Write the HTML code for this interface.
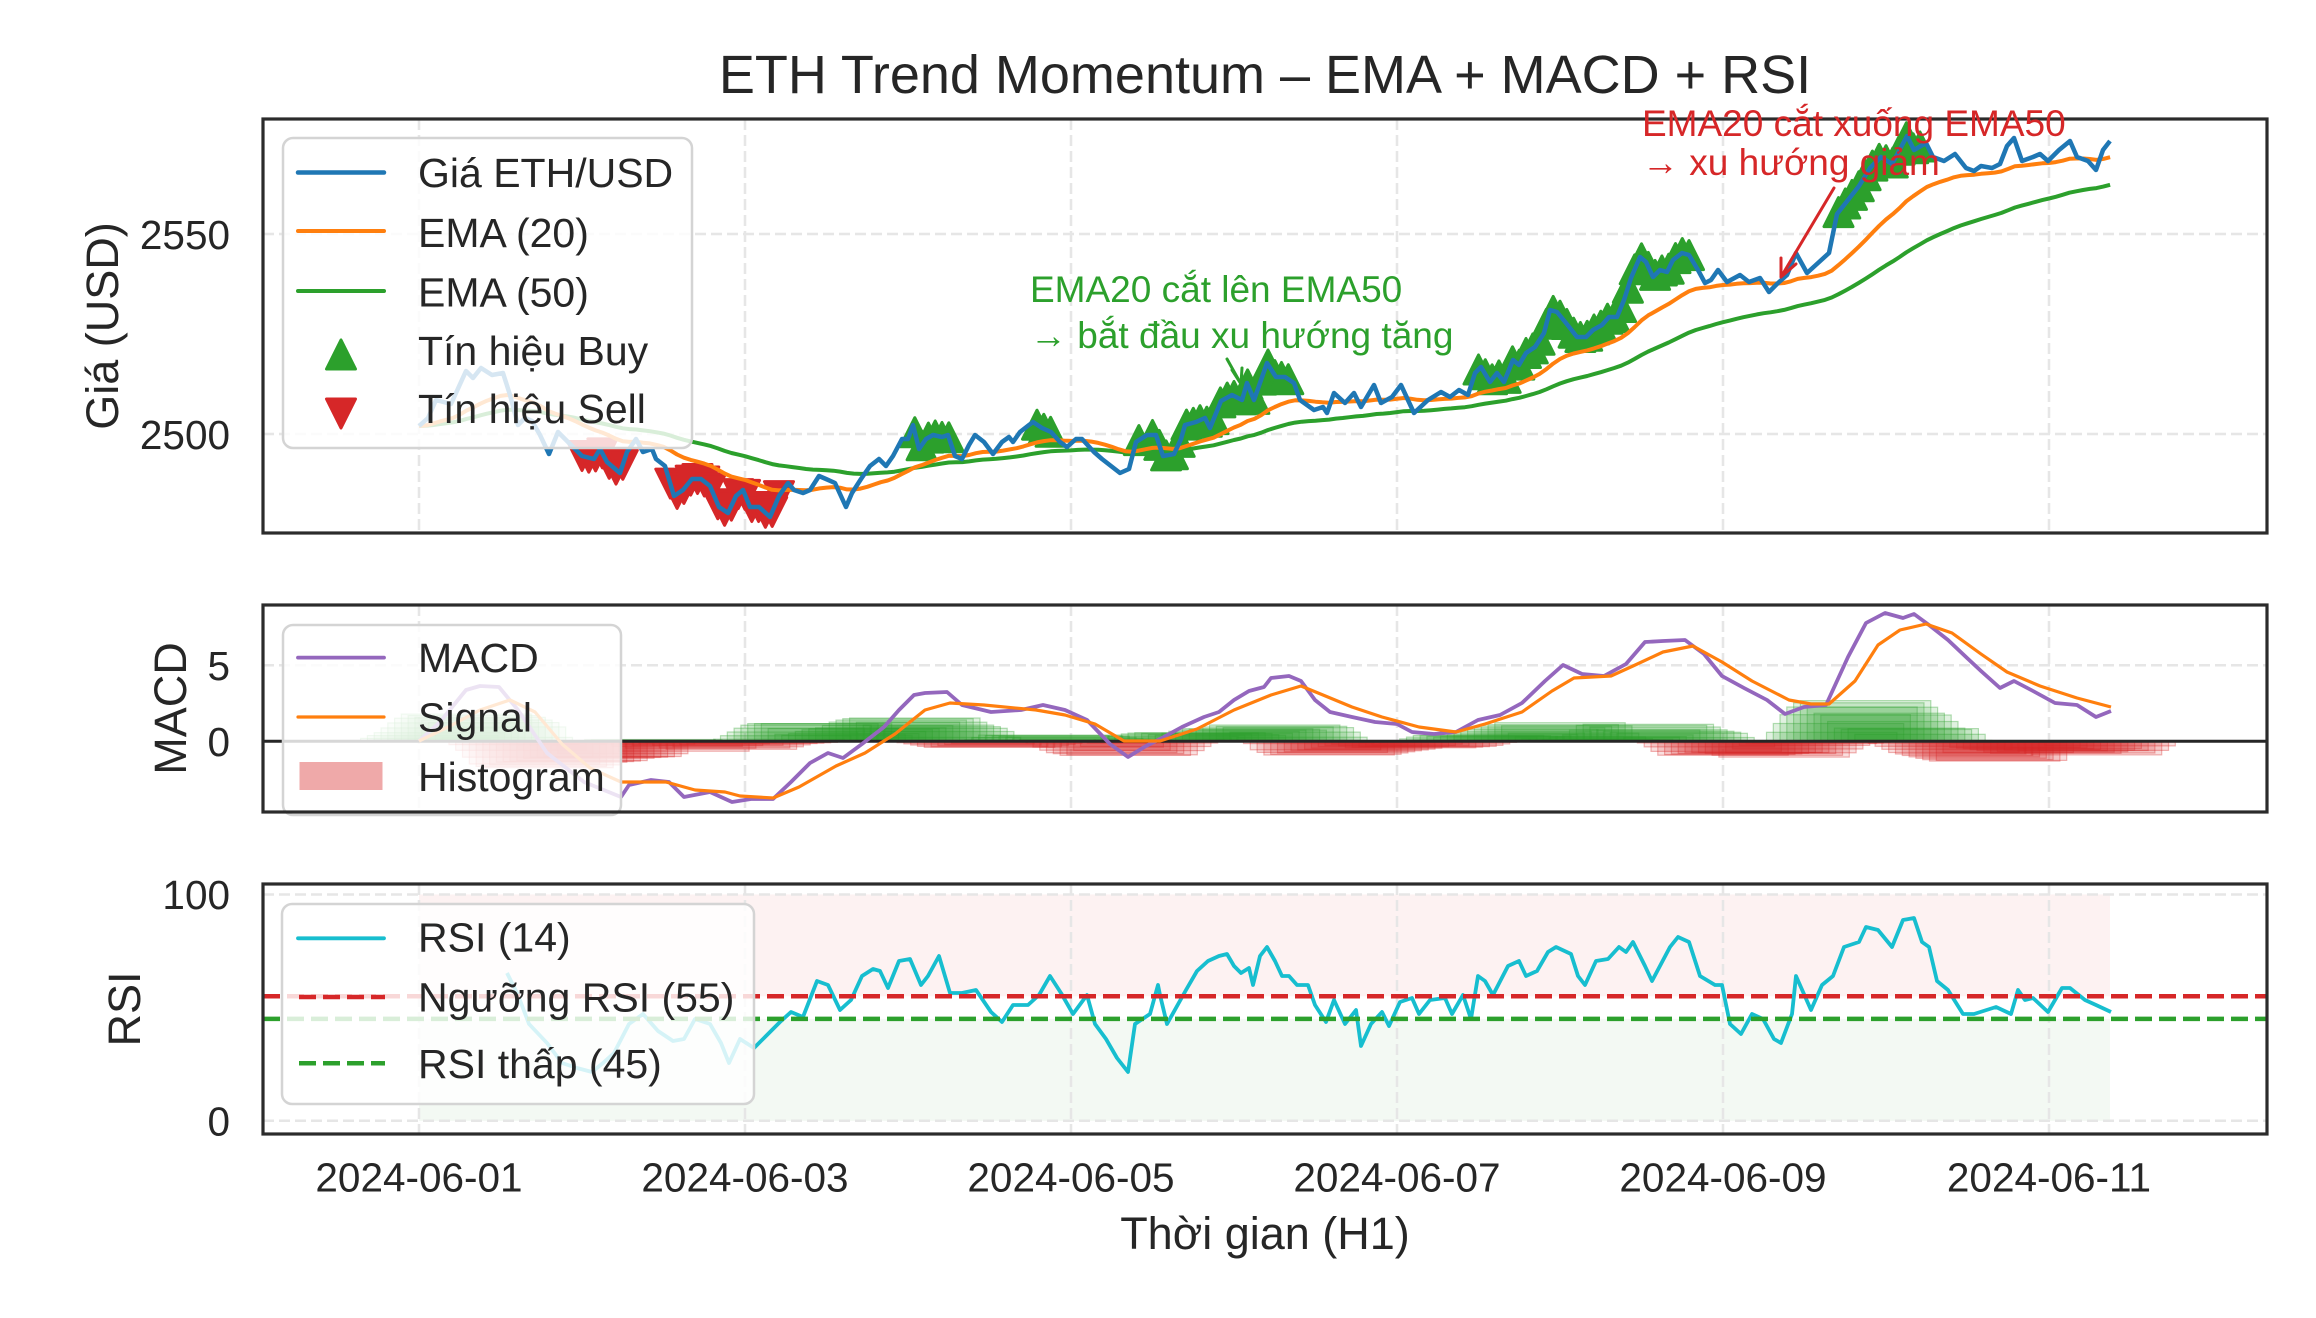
<!DOCTYPE html>
<html><head><meta charset="utf-8">
<style>
html,body{margin:0;padding:0;background:#fff;}
svg{display:block;}
text{font-family:"Liberation Sans","DejaVu Sans",sans-serif;fill:#262626;}
</style></head>
<body>
<svg id="c" width="2316" height="1318" viewBox="0 0 2316 1318" xmlns="http://www.w3.org/2000/svg">
<defs>
<clipPath id="cp1"><rect x="263" y="119" width="2004" height="414"/></clipPath>
<clipPath id="cp2"><rect x="263" y="605" width="2004" height="207"/></clipPath>
<clipPath id="cp3"><rect x="263" y="884" width="2004" height="250"/></clipPath>
</defs>
<rect width="2316" height="1318" fill="#fff"/>

<g clip-path="url(#cp3)">
<rect x="419" y="894.5" width="1691" height="101.8" fill="#d62728" fill-opacity="0.06"/>
<rect x="419" y="1018.9" width="1691" height="101.9" fill="#2ca02c" fill-opacity="0.06"/>
</g>

<g stroke="#e6e6e6" stroke-width="2.5" stroke-dasharray="11 5" fill="none">
<path d="M419 119V533M745 119V533M1071 119V533M1397 119V533M1723 119V533M2049 119V533"/>
<path d="M419 605V812M745 605V812M1071 605V812M1397 605V812M1723 605V812M2049 605V812"/>
<path d="M419 884V1134M745 884V1134M1071 884V1134M1397 884V1134M1723 884V1134M2049 884V1134"/>
<path d="M263 234H2267M263 434H2267"/>
<path d="M263 665.3H2267"/>
<path d="M263 894.5H2267M263 1120.8H2267"/>
</g>

<g clip-path="url(#cp1)">
  <g id="mk"></g>
  <path id="e50" fill="none" stroke="#2ca02c" stroke-width="4" stroke-linejoin="round"/>
  <path id="e20" fill="none" stroke="#ff7f0e" stroke-width="4" stroke-linejoin="round"/>
  <path id="pr" fill="none" stroke="#1f77b4" stroke-width="4.5" stroke-linejoin="round"/>
</g>
<g clip-path="url(#cp2)">
  <g id="hist" fill-opacity="0.15" stroke-opacity="0.35" stroke-width="1.2"></g>
  <path d="M263 741.3H2267" stroke="#262626" stroke-width="3"/>
  <path id="macd" fill="none" stroke="#9467bd" stroke-width="3.8" stroke-linejoin="round"/>
  <path id="sig" fill="none" stroke="#ff7f0e" stroke-width="3.2" stroke-linejoin="round"/>
</g>
<g clip-path="url(#cp3)">
  <path id="rsi" fill="none" stroke="#17becf" stroke-width="3.8" stroke-linejoin="round"/>
  <path d="M263 996.3H2267" stroke="#d62728" stroke-width="4.5" stroke-dasharray="17 7"/>
  <path d="M263 1018.9H2267" stroke="#2ca02c" stroke-width="4.5" stroke-dasharray="17 7"/>
</g>

<g>
<rect x="283" y="138" width="409" height="310" rx="10" fill="#fff" fill-opacity="0.82" stroke="#d4d4d4" stroke-width="2.5"/>
<path d="M298 172.5H384" stroke="#1f77b4" stroke-width="4.5" stroke-linecap="round"/>
<path d="M298 231H384" stroke="#ff7f0e" stroke-width="4" stroke-linecap="round"/>
<path d="M298 291H384" stroke="#2ca02c" stroke-width="4" stroke-linecap="round"/>
<polygon points="341,340 326.5,369 355.5,369" fill="#2ca02c" stroke="#2ca02c" stroke-width="3" stroke-linejoin="round"/>
<polygon points="341,428 326.5,399 355.5,399" fill="#d62728" stroke="#d62728" stroke-width="3" stroke-linejoin="round"/>
<text x="418" y="187" font-size="41">Giá ETH/USD</text>
<text x="418" y="247" font-size="41">EMA (20)</text>
<text x="418" y="306.5" font-size="41">EMA (50)</text>
<text x="418" y="365" font-size="41">Tín hiệu Buy</text>
<text x="418" y="423" font-size="41">Tín hiệu Sell</text>
</g>
<g>
<rect x="283" y="625" width="338" height="190" rx="10" fill="#fff" fill-opacity="0.82" stroke="#d4d4d4" stroke-width="2.5"/>
<path d="M298 657.6H384" stroke="#9467bd" stroke-width="3.8" stroke-linecap="round"/>
<path d="M298 717H384" stroke="#ff7f0e" stroke-width="3.2" stroke-linecap="round"/>
<rect x="299.5" y="762" width="83" height="28" fill="#d62728" fill-opacity="0.4"/>
<text x="418" y="672" font-size="41">MACD</text>
<text x="418" y="731.5" font-size="41">Signal</text>
<text x="418" y="791" font-size="41">Histogram</text>
</g>
<g>
<rect x="282" y="904" width="472" height="200" rx="10" fill="#fff" fill-opacity="0.82" stroke="#d4d4d4" stroke-width="2.5"/>
<path d="M298 938.3H384" stroke="#17becf" stroke-width="3.8" stroke-linecap="round"/>
<path d="M299 997H385" stroke="#d62728" stroke-width="4.5" stroke-dasharray="17 7"/>
<path d="M299 1063.3H385" stroke="#2ca02c" stroke-width="4.5" stroke-dasharray="17 7"/>
<text x="418" y="951.7" font-size="41">RSI (14)</text>
<text x="418" y="1011.7" font-size="41">Ngưỡng RSI (55)</text>
<text x="418" y="1078" font-size="41">RSI thấp (45)</text>
</g>

<g fill="none" stroke="#2b2b2b" stroke-width="3.2">
<rect x="263" y="119" width="2004" height="414"/>
<rect x="263" y="605" width="2004" height="207"/>
<rect x="263" y="884" width="2004" height="250"/>
</g>

<g font-size="40.5" text-anchor="end">
<text x="230" y="249">2550</text>
<text x="230" y="449">2500</text>
<text x="230" y="680">5</text>
<text x="230" y="756">0</text>
<text x="230" y="909">100</text>
<text x="230" y="1135.5">0</text>
</g>
<g font-size="40.5" text-anchor="middle">
<text x="419" y="1191.5">2024-06-01</text>
<text x="745" y="1191.5">2024-06-03</text>
<text x="1071" y="1191.5">2024-06-05</text>
<text x="1397" y="1191.5">2024-06-07</text>
<text x="1723" y="1191.5">2024-06-09</text>
<text x="2049" y="1191.5">2024-06-11</text>
</g>

<text x="1265" y="1249" font-size="45" text-anchor="middle">Thời gian (H1)</text>
<text transform="translate(118,326) rotate(-90)" font-size="45" text-anchor="middle">Giá (USD)</text>
<text transform="translate(186,708.5) rotate(-90)" font-size="45" text-anchor="middle">MACD</text>
<text transform="translate(140,1009) rotate(-90)" font-size="45" text-anchor="middle">RSI</text>
<text x="1265" y="93" font-size="54" text-anchor="middle">ETH Trend Momentum – EMA + MACD + RSI</text>

<g stroke="#2ca02c" stroke-width="3" fill="none" stroke-linecap="round">
<path d="M1227 359L1241 384M1241 384L1232 370M1241 384L1242 368"/>
</g>
<text x="1030" y="302" font-size="37" style="fill:#2ca02c">EMA20 cắt lên EMA50</text>
<text x="1030" y="348" font-size="37" style="fill:#2ca02c">→ bắt đầu xu hướng tăng</text>
<g stroke="#d62728" stroke-width="3" fill="none" stroke-linecap="round">
<path d="M1834 188L1781 277M1781 277L1781 258M1781 277L1796 264"/>
</g>
<text x="1642" y="136" font-size="37" style="fill:#d62728">EMA20 cắt xuống EMA50</text>
<text x="1642" y="175" font-size="37" style="fill:#d62728">→ xu hướng giảm</text>
</svg>

<script>
(function(){
const P=[[419,426],[428,418],[436,400],[451,404],[466,371],[473,378],[481,368],[492,375],[503,373],[510,395],[518,425],[525,418],[532,421],[540,435],[549,454],[558,432],[571,445],[582,456],[594,459],[600,449],[607,462],[620,473],[627,452],[636,439],[643,452],[652,449],[656,459],[665,466],[674,496],[683,490],[692,479],[701,479],[710,486],[719,507],[728,513],[736,496],[743,490],[750,507],[759,507],[770,517],[779,496],[788,483],[794,490],[803,493],[810,490],[819,476],[826,479],[835,483],[846,507],[852,493],[861,479],[870,466],[879,459],[886,466],[893,456],[902,439],[908,439],[913,425],[919,449],[926,439],[933,435],[942,437],[948,435],[955,456],[962,459],[969,445],[975,435],[984,442],[993,454],[1002,442],[1009,437],[1013,442],[1020,432],[1029,425],[1033,422],[1042,428],[1051,432],[1060,442],[1067,447],[1076,439],[1082,439],[1094,452],[1102,459],[1111,466],[1120,473],[1129,469],[1136,442],[1147,435],[1156,435],[1163,456],[1174,454],[1181,439],[1185,425],[1196,422],[1205,418],[1210,428],[1221,401],[1232,395],[1242,400],[1247,383],[1254,400],[1267,363],[1276,377],[1285,377],[1294,383],[1300,400],[1314,410],[1323,407],[1327,413],[1334,393],[1345,403],[1354,393],[1361,407],[1374,385],[1381,403],[1392,397],[1401,385],[1414,413],[1428,400],[1441,392],[1450,397],[1459,390],[1468,395],[1475,373],[1481,367],[1490,382],[1497,373],[1504,382],[1513,360],[1519,365],[1526,353],[1535,347],[1544,333],[1550,310],[1557,312],[1566,323],[1577,337],[1586,337],[1593,330],[1602,325],[1609,317],[1617,317],[1624,300],[1631,278],[1640,257],[1646,262],[1653,277],[1660,270],[1667,272],[1673,260],[1682,253],[1689,255],[1698,270],[1705,283],[1711,280],[1718,270],[1727,282],[1740,275],[1749,282],[1760,278],[1769,292],[1778,283],[1787,275],[1796,253],[1807,273],[1818,263],[1829,253],[1837,214],[1848,200],[1859,186],[1870,168],[1881,157],[1892,164],[1907,136],[1914,150],[1926,143],[1933,157],[1944,161],[1955,154],[1966,168],[1974,171],[1981,166],[1992,168],[2000,164],[2007,146],[2014,138],[2022,161],[2033,157],[2040,154],[2048,161],[2059,150],[2070,141],[2077,157],[2088,161],[2096,170],[2103,150],[2110,141]];
const M=[[419,741],[440,722],[466,690],[480,686],[499,687],[518,710],[547,753],[584,782],[621,797],[629,785],[651,780],[669,782],[684,797],[710,792],[732,802],[751,799],[773,799],[791,782],[810,763],[828,753],[843,758],[862,744],[884,727],[899,710],[914,695],[925,693],[947,692],[962,705],[991,712],[1021,710],[1043,705],[1065,710],[1087,720],[1110,744],[1128,757],[1146,746],[1160,739],[1182,727],[1204,717],[1219,712],[1234,700],[1249,691],[1264,687],[1271,678],[1289,676],[1301,681],[1315,700],[1330,712],[1352,717],[1375,722],[1397,724],[1412,732],[1434,734],[1456,732],[1478,720],[1500,715],[1522,703],[1545,681],[1563,665],[1582,674],[1604,676],[1626,664],[1645,642],[1663,641],[1685,640],[1704,654],[1722,676],[1744,688],[1767,700],[1785,714],[1804,707],[1826,705],[1848,657],[1866,623],[1885,613],[1903,618],[1914,614],[1929,625],[1948,640],[1966,657],[1981,671],[2000,688],[2014,681],[2033,691],[2055,703],[2077,705],[2096,717],[2111,711]];
const S=[[419,741],[450,726],[480,710],[510,700],[535,712],[562,744],[590,768],[621,782],[666,782],[695,790],[725,792],[740,796],[773,798],[799,787],[836,766],[865,753],[895,734],[925,710],[950,703],[984,705],[1036,710],[1065,715],[1095,724],[1124,741],[1160,741],[1197,729],[1234,710],[1271,695],[1301,686],[1323,695],[1352,707],[1382,717],[1419,727],[1456,732],[1485,724],[1522,712],[1552,691],[1574,678],[1611,676],[1633,666],[1663,652],[1693,646],[1722,662],[1752,681],[1789,700],[1811,704],[1829,704],[1855,681],[1878,645],[1900,630],[1926,624],[1952,633],[1981,654],[2007,672],[2040,686],[2077,698],[2111,707]];
const R=[[507,973],[518,995],[529,1024],[547,1043],[562,1063],[577,1068],[592,1072],[603,1063],[614,1053],[629,1024],[643,1014],[658,1031],[673,1041],[684,1039],[695,1019],[710,1024],[721,1043],[729,1063],[740,1039],[754,1048],[766,1036],[780,1022],[791,1012],[803,1017],[817,981],[828,985],[840,1010],[851,1000],[862,976],[873,969],[880,971],[888,988],[899,961],[910,959],[921,985],[928,976],[939,956],[950,993],[962,993],[976,990],[991,1012],[1002,1022],[1013,1005],[1028,1005],[1039,995],[1050,976],[1061,993],[1073,1014],[1087,995],[1095,1024],[1106,1039],[1117,1058],[1128,1072],[1135,1024],[1150,1014],[1158,985],[1160,995],[1167,1024],[1186,990],[1197,971],[1208,961],[1219,956],[1227,954],[1234,966],[1241,973],[1249,968],[1253,985],[1260,956],[1267,947],[1275,961],[1282,976],[1289,976],[1297,985],[1308,985],[1315,1005],[1326,1022],[1334,1000],[1345,1024],[1356,1010],[1361,1046],[1371,1024],[1382,1012],[1389,1026],[1400,1002],[1412,998],[1419,1014],[1430,1000],[1445,998],[1452,1014],[1463,995],[1471,1019],[1478,976],[1485,981],[1493,995],[1508,966],[1519,961],[1526,976],[1537,971],[1548,952],[1556,947],[1571,954],[1578,976],[1585,985],[1596,961],[1608,959],[1619,947],[1626,952],[1633,942],[1645,966],[1652,981],[1670,947],[1678,937],[1689,942],[1700,976],[1715,985],[1722,985],[1730,1024],[1741,1034],[1752,1014],[1763,1019],[1774,1039],[1781,1043],[1792,1014],[1796,976],[1811,1010],[1822,985],[1833,976],[1844,947],[1859,942],[1866,927],[1878,930],[1892,947],[1903,920],[1914,918],[1922,942],[1929,947],[1937,981],[1948,990],[1963,1014],[1974,1014],[1996,1007],[2011,1014],[2018,990],[2025,1000],[2033,998],[2048,1012],[2062,988],[2070,988],[2085,1000],[2096,1005],[2111,1012]];

const X0=419, PH=163/24, N=250;
function ip(pts,x){
  if(x<pts[0][0]-1.5||x>pts[pts.length-1][0]+1.5) return NaN;
  if(x<=pts[0][0]) return pts[0][1];
  for(let i=1;i<pts.length;i++){
    if(x<=pts[i][0]){const a=pts[i-1],b=pts[i];return a[1]+(b[1]-a[1])*(x-a[0])/(b[0]-a[0]);}
  }
  return pts[pts.length-1][1];
}
const xs=[];for(let h=0;h<N;h++)xs.push(X0+h*PH);
const py=xs.map(x=>ip(P,x));
function ema(arr,span){const a=2/(span+1);const o=[];let e=arr[0];for(let i=0;i<arr.length;i++){e=i?a*arr[i]+(1-a)*e:arr[0];o.push(e);}return o;}
const e20=ema(py,20), e50=ema(py,50);
function pth(ys){let d='';for(let i=0;i<ys.length;i++){d+=(i?'L':'M')+xs[i].toFixed(1)+' '+ys[i].toFixed(1);}return d;}
function pl(pts){return 'M'+pts.map(p=>p[0]+' '+p[1]).join('L');}
document.getElementById('pr').setAttribute('d',pl(P));
document.getElementById('e20').setAttribute('d',pth(e20));
document.getElementById('e50').setAttribute('d',pth(e50));
document.getElementById('macd').setAttribute('d',pl(M));
document.getElementById('sig').setAttribute('d',pl(S));
document.getElementById('rsi').setAttribute('d',pl(R));

function rng(a,b){const r=[];for(let i=a;i<=b;i++)r.push(i);return r;}
const buy=[].concat(rng(73,78),rng(91,93),[106],rng(108,128),rng(156,187),rng(209,221));
const sell=[].concat(rng(24,30),rng(37,53));
const s=14.5;
let m='';
for(const h of sell){const x=xs[h],y=py[h];m+='<polygon points="'+x.toFixed(1)+','+(y+s).toFixed(1)+' '+(x-s).toFixed(1)+','+(y-s).toFixed(1)+' '+(x+s).toFixed(1)+','+(y-s).toFixed(1)+'" fill="#d62728" stroke="#d62728" stroke-width="3" stroke-linejoin="round"/>';}
for(const h of buy){const x=xs[h],y=py[h];m+='<polygon points="'+x.toFixed(1)+','+(y-s).toFixed(1)+' '+(x-s).toFixed(1)+','+(y+s).toFixed(1)+' '+(x+s).toFixed(1)+','+(y+s).toFixed(1)+'" fill="#2ca02c" stroke="#2ca02c" stroke-width="3" stroke-linejoin="round"/>';}
document.getElementById('mk').innerHTML=m;

let hb='';
for(let h=0;h<N;h++){
  const ym=ip(M,xs[h]), ys=ip(S,xs[h]);
  if(isNaN(ym)||isNaN(ys))continue;
  const d=ys-ym; if(Math.abs(d)<0.15)continue;
  const c=d>0?'#2ca02c':'#d62728';
  const y=d>0?741.3-d:741.3;
  hb+='<rect x="'+(xs[h]-65.2).toFixed(1)+'" y="'+y.toFixed(1)+'" width="130.4" height="'+Math.abs(d).toFixed(1)+'" fill="'+c+'" stroke="'+c+'"/>';
}
document.getElementById('hist').innerHTML=hb;
})();
</script>
</body></html>
